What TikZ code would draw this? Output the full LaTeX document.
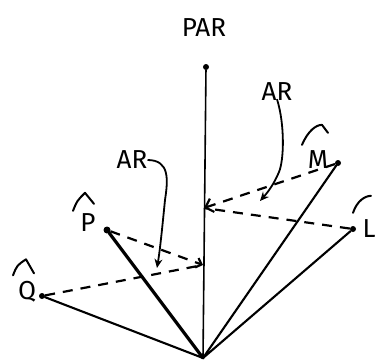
\documentclass[tikz,border=0pt]{standalone}
\usepackage{fontspec}
\setmainfont{Fira Sans}
\usetikzlibrary{arrows.meta}

\begin{document}
\begin{tikzpicture}[x=1pt, y=-1pt,
  every node/.style={font=\fontsize{26}{28}\selectfont, inner sep=0pt},
  dot/.style={circle, fill=black, minimum size=6pt, inner sep=0pt},
  ray/.style={line width=2.1pt, line cap=round},
  proj/.style={line width=2.2pt, dash pattern=on 10pt off 8pt},
  hat/.style={line width=2pt, line cap=round, line join=round},
  pointer/.style={-{Stealth[length=9pt, width=8pt, open]}, line width=1.8pt},
]
\useasboundingbox (0,0) rectangle (375,364);

% ── Axis ──
\node[dot] (top) at (206,67) {};
\coordinate (o) at (203,358);
\node (par) at (204,28) {PAR};
\draw[ray, line width=1.6pt] (top) -- (o);

% ── Points ──
\node[dot] (m) at (338,163) {};
\node[dot] (l) at (353,229) {};
\node[dot, minimum size=7pt] (p) at (107,230) {};
\node[dot] (q) at (42,296) {};

\node (mlab) at (318,160) {M};
\node (llab) at (369,229) {L};
\node (plab) at (88,223) {P};
\node (qlab) at (27,292) {Q};

\draw[hat] (mlab.north) ++(-16,-6) .. controls ++(6,-14) and ++(-6,0) .. ++(20,-20) -- ++(6,8);
\draw[hat] (llab.north) ++(-16,-7) .. controls ++(4,-12) and ++(-6,0) .. ++(18,-17);
\draw[hat] (plab.north) ++(-15,-3) .. controls ++(4,-10) .. ++(12,-18) -- ++(9,11);
\draw[hat] (qlab.north) ++(-14,-6) .. controls ++(4,-10) .. ++(13,-16) -- ++(8,14);

% ── Rays from origin ──
\draw[ray] (o) -- (m);
\draw[ray] (o) -- (l);
\draw[ray] (o) -- (q);
\draw[ray, line width=3.2pt] (o) -- (p);

% ── Projections onto the axis ──
\coordinate (jm) at (204,208);
\coordinate (jp) at (203,265);
\draw[proj, -{Straight Barb[length=7pt]}] (m) -- (jm);
\draw[proj] (l) -- (jm);
\draw[proj, -{Straight Barb[length=5pt]}] (p) -- (jp);
\draw[proj] (q) -- (jp);

% ── AR labels ──
\node (arleft) at (132,160) {AR};
\node (arright) at (277,92) {AR};
\draw[pointer] (arleft.east) .. controls (170,160) and (168,180) .. (165,200)
  .. controls (162,230) and (160,250) .. (157,268);
\draw[pointer] (arright.south) ++(0,-2) .. controls (285,125) and (284,160) .. (279,172)
  .. controls (274,184) and (268,192) .. (260,201);

\end{tikzpicture}
\end{document}
